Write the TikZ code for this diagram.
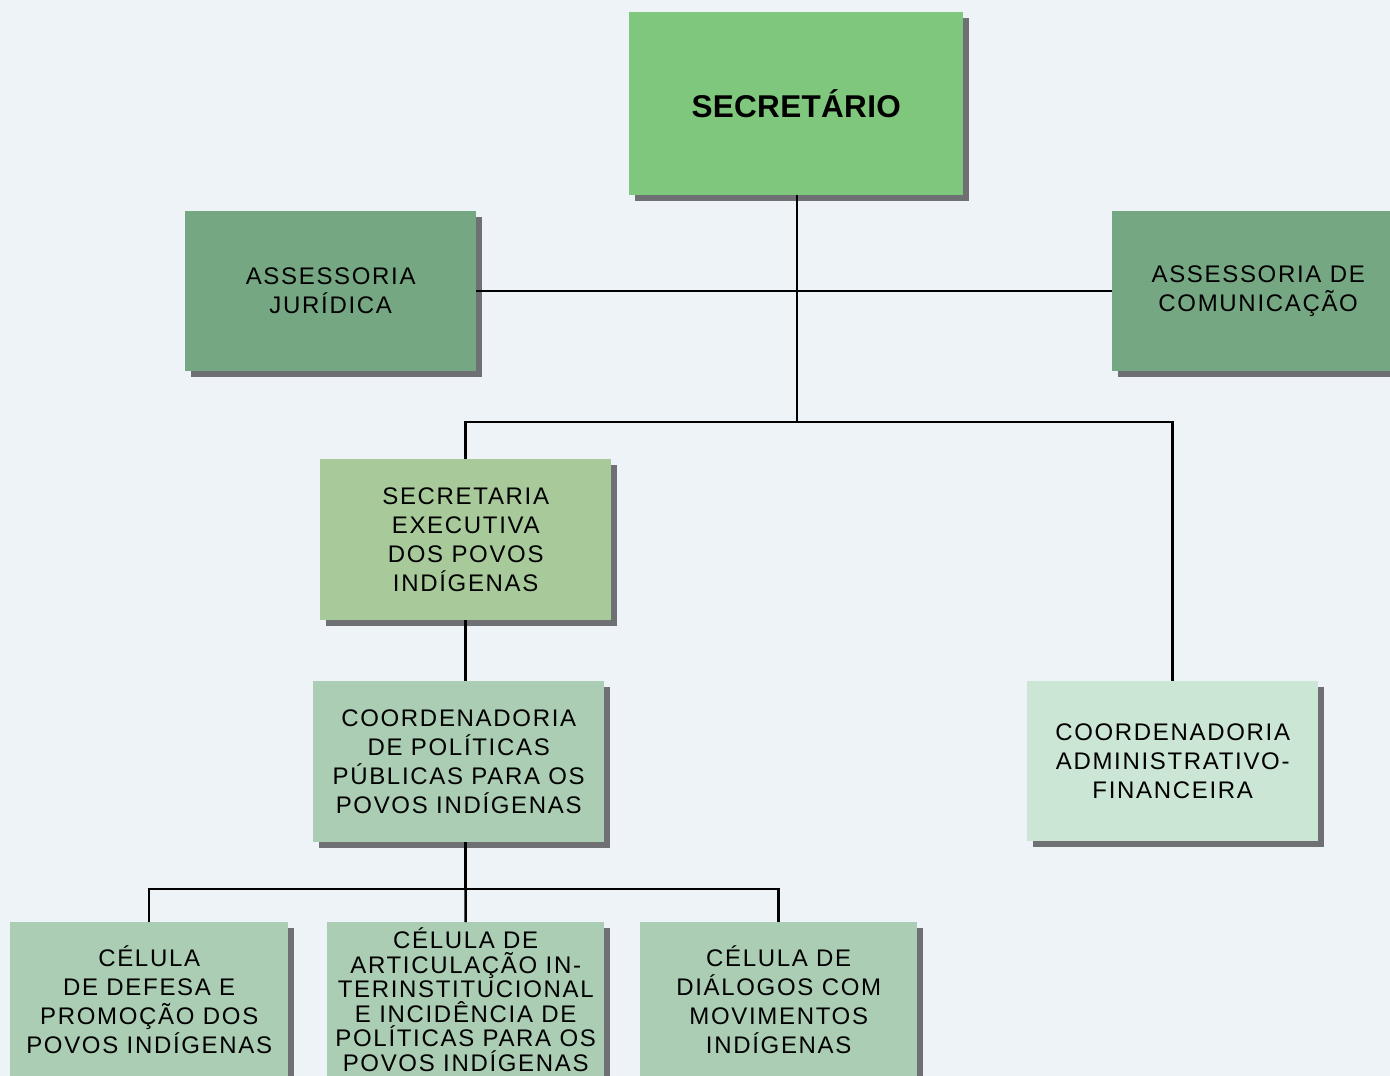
\documentclass[tikz,border=0pt]{standalone}
\usepackage{fontspec}
\setmainfont{Liberation Sans}
\newfontfamily\lsfont[LetterSpace=7]{Liberation Sans}
\newfontfamily\ttlfont[LetterSpace=1]{Liberation Sans}
\usetikzlibrary{shadows}
\definecolor{bgc}{HTML}{EEF3F8}
\definecolor{cSec}{HTML}{80C77E}
\definecolor{cAss}{HTML}{76A783}
\definecolor{cSE}{HTML}{A8CA9A}
\definecolor{cCPP}{HTML}{ABCDB4}
\definecolor{cCAF}{HTML}{CCE6D6}
\definecolor{shgray}{HTML}{6F7074}
\begin{document}
\begin{tikzpicture}[x=1pt,y=-1pt,
  box/.style={rectangle, anchor=north west, inner sep=0pt, align=center,
    text=black, font=\lsfont\fontsize{24}{29}\selectfont,
    drop shadow={shadow xshift=6pt, shadow yshift=-6pt, fill=shgray, opacity=1}},
  conn/.style={line width=2.5pt, black}]
\path[use as bounding box, fill=bgc] (0,0) rectangle (1390,1076);
\clip (0,0) rectangle (1390,1076);

\node[box, fill=cSec, minimum width=334pt, minimum height=183pt,
  font=\ttlfont\bfseries\fontsize{31.5}{36}\selectfont] (sec) at (629,12) {SECRETÁRIO};
\node[box, fill=cAss, minimum width=291pt, minimum height=160pt] (aj) at (185,211)
  {ASSESSORIA\\JURÍDICA};
\node[box, fill=cAss, minimum width=292pt, minimum height=160pt] (ac) at (1112,211)
  {ASSESSORIA DE\\COMUNICAÇÃO};
\node[box, fill=cSE, minimum width=291pt, minimum height=161pt] (se) at (320,459)
  {SECRETARIA\\EXECUTIVA\\DOS POVOS\\INDÍGENAS};
\node[box, fill=cCPP, minimum width=291pt, minimum height=161pt] (cpp) at (313,681)
  {COORDENADORIA\\DE POLÍTICAS\\PÚBLICAS PARA OS\\POVOS INDÍGENAS};
\node[box, fill=cCAF, minimum width=291pt, minimum height=160pt] (caf) at (1027,681)
  {COORDENADORIA\\ADMINISTRATIVO-\\FINANCEIRA};
\node[box, fill=cCPP, minimum width=278pt, minimum height=155pt] (c1) at (10,922)
  {CÉLULA\\DE DEFESA E\\PROMOÇÃO DOS\\POVOS INDÍGENAS};
\node[box, fill=cCPP, minimum width=277pt, minimum height=155pt,
  font=\lsfont\fontsize{24}{24.6}\selectfont] (c2) at (327,922)
  {CÉLULA DE\\ARTICULAÇÃO IN-\\TERINSTITUCIONAL\\E INCIDÊNCIA DE\\POLÍTICAS PARA OS\\POVOS INDÍGENAS};
\node[box, fill=cCPP, minimum width=277pt, minimum height=155pt] (c3) at (640,922)
  {CÉLULA DE\\DIÁLOGOS COM\\MOVIMENTOS\\INDÍGENAS};

\coordinate (j1) at (797,422);
\coordinate (j2) at (465.5,889);

\draw[conn] (aj.east) -- (ac.west);
\draw[conn] (sec.south -| j1) -- (j1);
\draw[conn] (se.north) |- (j1) -| (caf.north);
\draw[conn] (se.south) -- (se.south |- cpp.north);
\draw[conn] (cpp.south -| j2) -- (j2);
\draw[conn] (c1.north) |- (j2) -| (c3.north);
\draw[conn] (j2) -- (c2.north);
\end{tikzpicture}
\end{document}
